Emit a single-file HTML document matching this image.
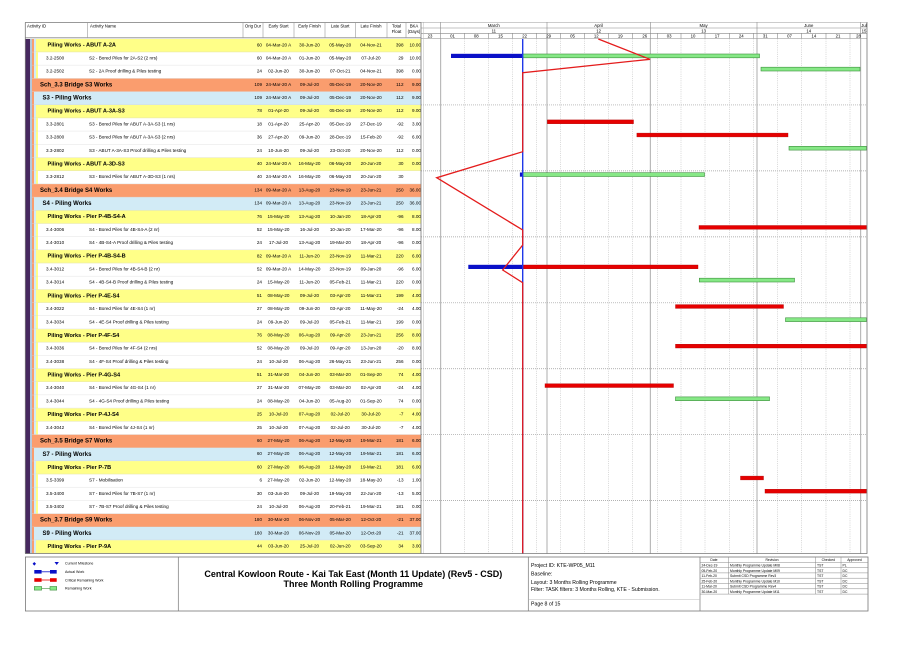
<!DOCTYPE html>
<html><head><meta charset="utf-8"><style>
html,body{margin:0;padding:0;background:#fff;}
svg{display:block}
svg text{font-family:"Liberation Sans",Arial,sans-serif;fill:#000}
.n{font-size:4.6px}
.h{font-size:4.3px}
.c{text-anchor:middle}
.r{text-anchor:end}
.y{font-size:5.6px;font-weight:bold}
.b{font-size:6px;font-weight:bold}
.lg{font-size:3.6px}
.rv{font-size:3.4px}
.pi{font-size:5.2px}
.tt{font-size:9px;font-weight:bold}
.gr{fill:#86e886;stroke:#3f8f3f;stroke-width:.6}
.rd{fill:#e60000;stroke:#b00000;stroke-width:.4}
.bl{fill:#0a10c8}
</style></head><body>
<svg width="919" height="650" viewBox="0 0 919 650" xmlns="http://www.w3.org/2000/svg">
<defs>
<g id="gO"><rect x="32" width="389" height="13.19" fill="#fa9d6e"/></g>
<g id="gB"><rect x="32" width="2" height="13.19" fill="#fa9d6e"/><rect x="34" width="387" height="13.19" fill="#d2ebf6"/></g>
<g id="gY"><rect x="32" width="2" height="13.19" fill="#fa9d6e"/><rect x="34" width="2" height="13.19" fill="#d2ebf6"/><rect x="36" width="385" height="13.19" fill="#ffff88"/></g>
<g id="gW"><rect x="32" width="2" height="13.19" fill="#fa9d6e"/><rect x="34" width="2" height="13.19" fill="#d2ebf6"/><rect x="36" width="2" height="13.19" fill="#ffff88"/></g>
<pattern id="rowl" x="0" y="39" width="10" height="13.19" patternUnits="userSpaceOnUse"><rect x="0" y="12.9" width="10" height="0.5" fill="#cfcfcf"/></pattern>
</defs>

<!-- left bands -->
<rect x="25.5" y="39" width="4.5" height="514.4" fill="#46285f"/>
<rect x="30" y="39" width="2" height="514.4" fill="#b4c8dc"/>

<!-- row backgrounds -->
<use href="#gY" y="39"/>
<use href="#gW" y="52.19"/>
<use href="#gW" y="65.38"/>
<use href="#gO" y="78.57"/>
<use href="#gB" y="91.76"/>
<use href="#gY" y="104.95"/>
<use href="#gW" y="118.14"/>
<use href="#gW" y="131.33"/>
<use href="#gW" y="144.52"/>
<use href="#gY" y="157.71"/>
<use href="#gW" y="170.9"/>
<use href="#gO" y="184.09"/>
<use href="#gB" y="197.28"/>
<use href="#gY" y="210.47"/>
<use href="#gW" y="223.66"/>
<use href="#gW" y="236.85"/>
<use href="#gY" y="250.04"/>
<use href="#gW" y="263.23"/>
<use href="#gW" y="276.42"/>
<use href="#gY" y="289.61"/>
<use href="#gW" y="302.8"/>
<use href="#gW" y="315.99"/>
<use href="#gY" y="329.18"/>
<use href="#gW" y="342.37"/>
<use href="#gW" y="355.56"/>
<use href="#gY" y="368.75"/>
<use href="#gW" y="381.94"/>
<use href="#gW" y="395.13"/>
<use href="#gY" y="408.32"/>
<use href="#gW" y="421.51"/>
<use href="#gO" y="434.7"/>
<use href="#gB" y="447.89"/>
<use href="#gY" y="461.08"/>
<use href="#gW" y="474.27"/>
<use href="#gW" y="487.46"/>
<use href="#gW" y="500.65"/>
<use href="#gO" y="513.84"/>
<use href="#gB" y="527.03"/>
<use href="#gY" y="540.22"/>
<rect x="32" y="39" width="389" height="514.4" fill="url(#rowl)"/>

<!-- table header -->
<line x1="25" y1="22.5" x2="867.5" y2="22.5" stroke="#777" stroke-width=".8"/>
<line x1="25" y1="37.8" x2="421" y2="37.8" stroke="#888" stroke-width=".8"/>
<g stroke="#999" stroke-width=".6">
<line x1="87.5" y1="22.5" x2="87.5" y2="37.8"/>
<line x1="243" y1="22.5" x2="243" y2="37.8"/>
<line x1="263" y1="22.5" x2="263" y2="37.8"/>
<line x1="294" y1="22.5" x2="294" y2="37.8"/>
<line x1="325" y1="22.5" x2="325" y2="37.8"/>
<line x1="355.5" y1="22.5" x2="355.5" y2="37.8"/>
<line x1="387" y1="22.5" x2="387" y2="37.8"/>
<line x1="406" y1="22.5" x2="406" y2="37.8"/>
</g>
<text class="h" x="27" y="27.3">Activity ID</text>
<text class="h" x="90" y="27.3">Activity Name</text>
<text class="h c" x="253" y="27.3">Orig Dur</text>
<text class="h c" x="278.5" y="27.3">Early Start</text>
<text class="h c" x="309.5" y="27.3">Early Finish</text>
<text class="h c" x="340.2" y="27.3">Late Start</text>
<text class="h c" x="371" y="27.3">Late Finish</text>
<text class="h c" x="396.5" y="27.3">Total</text>
<text class="h c" x="396.5" y="32.8">Float</text>
<text class="h c" x="414" y="27.3">BKA</text>
<text class="h c" x="414" y="32.8">(Days)</text>

<!-- rows text -->
<g transform="translate(0,39)"><text class="y" x="47.5" y="7.7">Piling Works - ABUT A-2A</text><text class="n r" x="262" y="7.3">60</text><text class="n c" x="278.5" y="7.3">04-Mar-20 A</text><text class="n c" x="309.5" y="7.3">30-Jun-20</text><text class="n c" x="340.2" y="7.3">05-May-20</text><text class="n c" x="371" y="7.3">04-Nov-21</text><text class="n r" x="403.5" y="7.3">398</text><text class="n r" x="421" y="7.3">10.00</text></g>
<g transform="translate(0,52.19)"><text class="n" x="46" y="7.3">3.2-2500</text><text class="n" x="89" y="7.3">S2 - Bored Piles for 2A-S2 (2 nrs)</text><text class="n r" x="262" y="7.3">60</text><text class="n c" x="278.5" y="7.3">04-Mar-20 A</text><text class="n c" x="309.5" y="7.3">01-Jun-20</text><text class="n c" x="340.2" y="7.3">05-May-20</text><text class="n c" x="371" y="7.3">07-Jul-20</text><text class="n r" x="403.5" y="7.3">29</text><text class="n r" x="421" y="7.3">10.00</text></g>
<g transform="translate(0,65.38)"><text class="n" x="46" y="7.3">3.2-2502</text><text class="n" x="89" y="7.3">S2 - 2A Proof drilling &amp; Piles testing</text><text class="n r" x="262" y="7.3">24</text><text class="n c" x="278.5" y="7.3">02-Jun-20</text><text class="n c" x="309.5" y="7.3">30-Jun-20</text><text class="n c" x="340.2" y="7.3">07-Oct-21</text><text class="n c" x="371" y="7.3">04-Nov-21</text><text class="n r" x="403.5" y="7.3">398</text><text class="n r" x="421" y="7.3">0.00</text></g>
<g transform="translate(0,78.57)"><text class="b" x="40" y="7.9">Sch_3.3 Bridge S3 Works</text><text class="n r" x="262" y="7.3">109</text><text class="n c" x="278.5" y="7.3">24-Mar-20 A</text><text class="n c" x="309.5" y="7.3">09-Jul-20</text><text class="n c" x="340.2" y="7.3">05-Dec-19</text><text class="n c" x="371" y="7.3">20-Nov-20</text><text class="n r" x="403.5" y="7.3">112</text><text class="n r" x="421" y="7.3">9.00</text></g>
<g transform="translate(0,91.76)"><text class="b" x="42.5" y="7.9">S3 - Piling Works</text><text class="n r" x="262" y="7.3">109</text><text class="n c" x="278.5" y="7.3">24-Mar-20 A</text><text class="n c" x="309.5" y="7.3">09-Jul-20</text><text class="n c" x="340.2" y="7.3">05-Dec-19</text><text class="n c" x="371" y="7.3">20-Nov-20</text><text class="n r" x="403.5" y="7.3">112</text><text class="n r" x="421" y="7.3">9.00</text></g>
<g transform="translate(0,104.95)"><text class="y" x="47.5" y="7.7">Piling Works - ABUT A-3A-S3</text><text class="n r" x="262" y="7.3">78</text><text class="n c" x="278.5" y="7.3">01-Apr-20</text><text class="n c" x="309.5" y="7.3">09-Jul-20</text><text class="n c" x="340.2" y="7.3">05-Dec-19</text><text class="n c" x="371" y="7.3">20-Nov-20</text><text class="n r" x="403.5" y="7.3">112</text><text class="n r" x="421" y="7.3">9.00</text></g>
<g transform="translate(0,118.14)"><text class="n" x="46" y="7.3">3.3-2801</text><text class="n" x="89" y="7.3">S3 - Bored Piles for ABUT A-3A-S3 (1 nrs)</text><text class="n r" x="262" y="7.3">18</text><text class="n c" x="278.5" y="7.3">01-Apr-20</text><text class="n c" x="309.5" y="7.3">25-Apr-20</text><text class="n c" x="340.2" y="7.3">05-Dec-19</text><text class="n c" x="371" y="7.3">27-Dec-19</text><text class="n r" x="403.5" y="7.3">-92</text><text class="n r" x="421" y="7.3">3.00</text></g>
<g transform="translate(0,131.33)"><text class="n" x="46" y="7.3">3.3-2800</text><text class="n" x="89" y="7.3">S3 - Bored Piles for ABUT A-3A-S3 (2 nrs)</text><text class="n r" x="262" y="7.3">36</text><text class="n c" x="278.5" y="7.3">27-Apr-20</text><text class="n c" x="309.5" y="7.3">09-Jun-20</text><text class="n c" x="340.2" y="7.3">28-Dec-19</text><text class="n c" x="371" y="7.3">15-Feb-20</text><text class="n r" x="403.5" y="7.3">-92</text><text class="n r" x="421" y="7.3">6.00</text></g>
<g transform="translate(0,144.52)"><text class="n" x="46" y="7.3">3.3-2802</text><text class="n" x="89" y="7.3">S3 - ABUT A-3A-S3 Proof drilling &amp; Piles testing</text><text class="n r" x="262" y="7.3">24</text><text class="n c" x="278.5" y="7.3">10-Jun-20</text><text class="n c" x="309.5" y="7.3">09-Jul-20</text><text class="n c" x="340.2" y="7.3">23-Oct-20</text><text class="n c" x="371" y="7.3">20-Nov-20</text><text class="n r" x="403.5" y="7.3">112</text><text class="n r" x="421" y="7.3">0.00</text></g>
<g transform="translate(0,157.71)"><text class="y" x="47.5" y="7.7">Piling Works - ABUT A-3D-S3</text><text class="n r" x="262" y="7.3">40</text><text class="n c" x="278.5" y="7.3">24-Mar-20 A</text><text class="n c" x="309.5" y="7.3">16-May-20</text><text class="n c" x="340.2" y="7.3">06-May-20</text><text class="n c" x="371" y="7.3">20-Jun-20</text><text class="n r" x="403.5" y="7.3">30</text><text class="n r" x="421" y="7.3">0.00</text></g>
<g transform="translate(0,170.9)"><text class="n" x="46" y="7.3">3.3-2812</text><text class="n" x="89" y="7.3">S3 - Bored Piles for ABUT A-3D-S3 (1 nrs)</text><text class="n r" x="262" y="7.3">40</text><text class="n c" x="278.5" y="7.3">24-Mar-20 A</text><text class="n c" x="309.5" y="7.3">16-May-20</text><text class="n c" x="340.2" y="7.3">06-May-20</text><text class="n c" x="371" y="7.3">20-Jun-20</text><text class="n r" x="403.5" y="7.3">30</text></g>
<g transform="translate(0,184.09)"><text class="b" x="40" y="7.9">Sch_3.4 Bridge S4 Works</text><text class="n r" x="262" y="7.3">134</text><text class="n c" x="278.5" y="7.3">09-Mar-20 A</text><text class="n c" x="309.5" y="7.3">13-Aug-20</text><text class="n c" x="340.2" y="7.3">23-Nov-19</text><text class="n c" x="371" y="7.3">23-Jun-21</text><text class="n r" x="403.5" y="7.3">250</text><text class="n r" x="421" y="7.3">36.00</text></g>
<g transform="translate(0,197.28)"><text class="b" x="42.5" y="7.9">S4 - Piling Works</text><text class="n r" x="262" y="7.3">134</text><text class="n c" x="278.5" y="7.3">09-Mar-20 A</text><text class="n c" x="309.5" y="7.3">13-Aug-20</text><text class="n c" x="340.2" y="7.3">23-Nov-19</text><text class="n c" x="371" y="7.3">23-Jun-21</text><text class="n r" x="403.5" y="7.3">250</text><text class="n r" x="421" y="7.3">36.00</text></g>
<g transform="translate(0,210.47)"><text class="y" x="47.5" y="7.7">Piling Works - Pier P-4B-S4-A</text><text class="n r" x="262" y="7.3">76</text><text class="n c" x="278.5" y="7.3">15-May-20</text><text class="n c" x="309.5" y="7.3">13-Aug-20</text><text class="n c" x="340.2" y="7.3">10-Jan-20</text><text class="n c" x="371" y="7.3">18-Apr-20</text><text class="n r" x="403.5" y="7.3">-96</text><text class="n r" x="421" y="7.3">8.00</text></g>
<g transform="translate(0,223.66)"><text class="n" x="46" y="7.3">3.4-3006</text><text class="n" x="89" y="7.3">S4 - Bored Piles for 4B-S4-A (2 nr)</text><text class="n r" x="262" y="7.3">52</text><text class="n c" x="278.5" y="7.3">15-May-20</text><text class="n c" x="309.5" y="7.3">16-Jul-20</text><text class="n c" x="340.2" y="7.3">10-Jan-20</text><text class="n c" x="371" y="7.3">17-Mar-20</text><text class="n r" x="403.5" y="7.3">-96</text><text class="n r" x="421" y="7.3">8.00</text></g>
<g transform="translate(0,236.85)"><text class="n" x="46" y="7.3">3.4-3010</text><text class="n" x="89" y="7.3">S4 - 4B-S4-A Proof drilling &amp; Piles testing</text><text class="n r" x="262" y="7.3">24</text><text class="n c" x="278.5" y="7.3">17-Jul-20</text><text class="n c" x="309.5" y="7.3">13-Aug-20</text><text class="n c" x="340.2" y="7.3">19-Mar-20</text><text class="n c" x="371" y="7.3">18-Apr-20</text><text class="n r" x="403.5" y="7.3">-96</text><text class="n r" x="421" y="7.3">0.00</text></g>
<g transform="translate(0,250.04)"><text class="y" x="47.5" y="7.7">Piling Works - Pier P-4B-S4-B</text><text class="n r" x="262" y="7.3">82</text><text class="n c" x="278.5" y="7.3">09-Mar-20 A</text><text class="n c" x="309.5" y="7.3">11-Jun-20</text><text class="n c" x="340.2" y="7.3">23-Nov-19</text><text class="n c" x="371" y="7.3">11-Mar-21</text><text class="n r" x="403.5" y="7.3">220</text><text class="n r" x="421" y="7.3">6.00</text></g>
<g transform="translate(0,263.23)"><text class="n" x="46" y="7.3">3.4-3012</text><text class="n" x="89" y="7.3">S4 - Bored Piles for 4B-S4-B (2 nr)</text><text class="n r" x="262" y="7.3">52</text><text class="n c" x="278.5" y="7.3">09-Mar-20 A</text><text class="n c" x="309.5" y="7.3">14-May-20</text><text class="n c" x="340.2" y="7.3">23-Nov-19</text><text class="n c" x="371" y="7.3">09-Jan-20</text><text class="n r" x="403.5" y="7.3">-96</text><text class="n r" x="421" y="7.3">6.00</text></g>
<g transform="translate(0,276.42)"><text class="n" x="46" y="7.3">3.4-3014</text><text class="n" x="89" y="7.3">S4 - 4B-S4-B Proof drilling &amp; Piles testing</text><text class="n r" x="262" y="7.3">24</text><text class="n c" x="278.5" y="7.3">15-May-20</text><text class="n c" x="309.5" y="7.3">11-Jun-20</text><text class="n c" x="340.2" y="7.3">05-Feb-21</text><text class="n c" x="371" y="7.3">11-Mar-21</text><text class="n r" x="403.5" y="7.3">220</text><text class="n r" x="421" y="7.3">0.00</text></g>
<g transform="translate(0,289.61)"><text class="y" x="47.5" y="7.7">Piling Works - Pier P-4E-S4</text><text class="n r" x="262" y="7.3">51</text><text class="n c" x="278.5" y="7.3">08-May-20</text><text class="n c" x="309.5" y="7.3">09-Jul-20</text><text class="n c" x="340.2" y="7.3">03-Apr-20</text><text class="n c" x="371" y="7.3">11-Mar-21</text><text class="n r" x="403.5" y="7.3">199</text><text class="n r" x="421" y="7.3">4.00</text></g>
<g transform="translate(0,302.8)"><text class="n" x="46" y="7.3">3.4-3022</text><text class="n" x="89" y="7.3">S4 - Bored Piles for 4E-S4 (1 nr)</text><text class="n r" x="262" y="7.3">27</text><text class="n c" x="278.5" y="7.3">08-May-20</text><text class="n c" x="309.5" y="7.3">09-Jun-20</text><text class="n c" x="340.2" y="7.3">03-Apr-20</text><text class="n c" x="371" y="7.3">11-May-20</text><text class="n r" x="403.5" y="7.3">-24</text><text class="n r" x="421" y="7.3">4.00</text></g>
<g transform="translate(0,315.99)"><text class="n" x="46" y="7.3">3.4-3034</text><text class="n" x="89" y="7.3">S4 - 4E-S4 Proof drilling &amp; Piles testing</text><text class="n r" x="262" y="7.3">24</text><text class="n c" x="278.5" y="7.3">09-Jun-20</text><text class="n c" x="309.5" y="7.3">09-Jul-20</text><text class="n c" x="340.2" y="7.3">05-Feb-21</text><text class="n c" x="371" y="7.3">11-Mar-21</text><text class="n r" x="403.5" y="7.3">199</text><text class="n r" x="421" y="7.3">0.00</text></g>
<g transform="translate(0,329.18)"><text class="y" x="47.5" y="7.7">Piling Works - Pier P-4F-S4</text><text class="n r" x="262" y="7.3">76</text><text class="n c" x="278.5" y="7.3">08-May-20</text><text class="n c" x="309.5" y="7.3">06-Aug-20</text><text class="n c" x="340.2" y="7.3">09-Apr-20</text><text class="n c" x="371" y="7.3">23-Jun-21</text><text class="n r" x="403.5" y="7.3">256</text><text class="n r" x="421" y="7.3">8.00</text></g>
<g transform="translate(0,342.37)"><text class="n" x="46" y="7.3">3.4-3036</text><text class="n" x="89" y="7.3">S4 - Bored Piles for 4F-S4 (2 nrs)</text><text class="n r" x="262" y="7.3">52</text><text class="n c" x="278.5" y="7.3">08-May-20</text><text class="n c" x="309.5" y="7.3">09-Jul-20</text><text class="n c" x="340.2" y="7.3">09-Apr-20</text><text class="n c" x="371" y="7.3">13-Jun-20</text><text class="n r" x="403.5" y="7.3">-20</text><text class="n r" x="421" y="7.3">8.00</text></g>
<g transform="translate(0,355.56)"><text class="n" x="46" y="7.3">3.4-3038</text><text class="n" x="89" y="7.3">S4 - 4F-S4 Proof drilling &amp; Piles testing</text><text class="n r" x="262" y="7.3">24</text><text class="n c" x="278.5" y="7.3">10-Jul-20</text><text class="n c" x="309.5" y="7.3">06-Aug-20</text><text class="n c" x="340.2" y="7.3">26-May-21</text><text class="n c" x="371" y="7.3">23-Jun-21</text><text class="n r" x="403.5" y="7.3">256</text><text class="n r" x="421" y="7.3">0.00</text></g>
<g transform="translate(0,368.75)"><text class="y" x="47.5" y="7.7">Piling Works - Pier P-4G-S4</text><text class="n r" x="262" y="7.3">51</text><text class="n c" x="278.5" y="7.3">31-Mar-20</text><text class="n c" x="309.5" y="7.3">04-Jun-20</text><text class="n c" x="340.2" y="7.3">03-Mar-20</text><text class="n c" x="371" y="7.3">01-Sep-20</text><text class="n r" x="403.5" y="7.3">74</text><text class="n r" x="421" y="7.3">4.00</text></g>
<g transform="translate(0,381.94)"><text class="n" x="46" y="7.3">3.4-3040</text><text class="n" x="89" y="7.3">S4 - Bored Piles for 4G-S4 (1 nr)</text><text class="n r" x="262" y="7.3">27</text><text class="n c" x="278.5" y="7.3">31-Mar-20</text><text class="n c" x="309.5" y="7.3">07-May-20</text><text class="n c" x="340.2" y="7.3">03-Mar-20</text><text class="n c" x="371" y="7.3">02-Apr-20</text><text class="n r" x="403.5" y="7.3">-24</text><text class="n r" x="421" y="7.3">4.00</text></g>
<g transform="translate(0,395.13)"><text class="n" x="46" y="7.3">3.4-3044</text><text class="n" x="89" y="7.3">S4 - 4G-S4 Proof drilling &amp; Piles testing</text><text class="n r" x="262" y="7.3">24</text><text class="n c" x="278.5" y="7.3">08-May-20</text><text class="n c" x="309.5" y="7.3">04-Jun-20</text><text class="n c" x="340.2" y="7.3">05-Aug-20</text><text class="n c" x="371" y="7.3">01-Sep-20</text><text class="n r" x="403.5" y="7.3">74</text><text class="n r" x="421" y="7.3">0.00</text></g>
<g transform="translate(0,408.32)"><text class="y" x="47.5" y="7.7">Piling Works - Pier P-4J-S4</text><text class="n r" x="262" y="7.3">25</text><text class="n c" x="278.5" y="7.3">10-Jul-20</text><text class="n c" x="309.5" y="7.3">07-Aug-20</text><text class="n c" x="340.2" y="7.3">02-Jul-20</text><text class="n c" x="371" y="7.3">30-Jul-20</text><text class="n r" x="403.5" y="7.3">-7</text><text class="n r" x="421" y="7.3">4.00</text></g>
<g transform="translate(0,421.51)"><text class="n" x="46" y="7.3">3.4-3042</text><text class="n" x="89" y="7.3">S4 - Bored Piles for 4J-S4 (1 nr)</text><text class="n r" x="262" y="7.3">25</text><text class="n c" x="278.5" y="7.3">10-Jul-20</text><text class="n c" x="309.5" y="7.3">07-Aug-20</text><text class="n c" x="340.2" y="7.3">02-Jul-20</text><text class="n c" x="371" y="7.3">30-Jul-20</text><text class="n r" x="403.5" y="7.3">-7</text><text class="n r" x="421" y="7.3">4.00</text></g>
<g transform="translate(0,434.7)"><text class="b" x="40" y="7.9">Sch_3.5 Bridge S7 Works</text><text class="n r" x="262" y="7.3">60</text><text class="n c" x="278.5" y="7.3">27-May-20</text><text class="n c" x="309.5" y="7.3">06-Aug-20</text><text class="n c" x="340.2" y="7.3">12-May-20</text><text class="n c" x="371" y="7.3">19-Mar-21</text><text class="n r" x="403.5" y="7.3">181</text><text class="n r" x="421" y="7.3">6.00</text></g>
<g transform="translate(0,447.89)"><text class="b" x="42.5" y="7.9">S7 - Piling Works</text><text class="n r" x="262" y="7.3">60</text><text class="n c" x="278.5" y="7.3">27-May-20</text><text class="n c" x="309.5" y="7.3">06-Aug-20</text><text class="n c" x="340.2" y="7.3">12-May-20</text><text class="n c" x="371" y="7.3">19-Mar-21</text><text class="n r" x="403.5" y="7.3">181</text><text class="n r" x="421" y="7.3">6.00</text></g>
<g transform="translate(0,461.08)"><text class="y" x="47.5" y="7.7">Piling Works - Pier P-7B</text><text class="n r" x="262" y="7.3">60</text><text class="n c" x="278.5" y="7.3">27-May-20</text><text class="n c" x="309.5" y="7.3">06-Aug-20</text><text class="n c" x="340.2" y="7.3">12-May-20</text><text class="n c" x="371" y="7.3">19-Mar-21</text><text class="n r" x="403.5" y="7.3">181</text><text class="n r" x="421" y="7.3">6.00</text></g>
<g transform="translate(0,474.27)"><text class="n" x="46" y="7.3">3.5-3399</text><text class="n" x="89" y="7.3">S7 - Mobilisation</text><text class="n r" x="262" y="7.3">6</text><text class="n c" x="278.5" y="7.3">27-May-20</text><text class="n c" x="309.5" y="7.3">02-Jun-20</text><text class="n c" x="340.2" y="7.3">12-May-20</text><text class="n c" x="371" y="7.3">18-May-20</text><text class="n r" x="403.5" y="7.3">-13</text><text class="n r" x="421" y="7.3">1.00</text></g>
<g transform="translate(0,487.46)"><text class="n" x="46" y="7.3">3.5-3400</text><text class="n" x="89" y="7.3">S7 - Bored Piles for 7B-S7 (1 nr)</text><text class="n r" x="262" y="7.3">30</text><text class="n c" x="278.5" y="7.3">03-Jun-20</text><text class="n c" x="309.5" y="7.3">09-Jul-20</text><text class="n c" x="340.2" y="7.3">19-May-20</text><text class="n c" x="371" y="7.3">22-Jun-20</text><text class="n r" x="403.5" y="7.3">-13</text><text class="n r" x="421" y="7.3">5.00</text></g>
<g transform="translate(0,500.65)"><text class="n" x="46" y="7.3">3.5-3402</text><text class="n" x="89" y="7.3">S7 - 7B-S7 Proof drilling &amp; Piles testing</text><text class="n r" x="262" y="7.3">24</text><text class="n c" x="278.5" y="7.3">10-Jul-20</text><text class="n c" x="309.5" y="7.3">06-Aug-20</text><text class="n c" x="340.2" y="7.3">20-Feb-21</text><text class="n c" x="371" y="7.3">19-Mar-21</text><text class="n r" x="403.5" y="7.3">181</text><text class="n r" x="421" y="7.3">0.00</text></g>
<g transform="translate(0,513.84)"><text class="b" x="40" y="7.9">Sch_3.7 Bridge S9 Works</text><text class="n r" x="262" y="7.3">180</text><text class="n c" x="278.5" y="7.3">30-Mar-20</text><text class="n c" x="309.5" y="7.3">06-Nov-20</text><text class="n c" x="340.2" y="7.3">05-Mar-20</text><text class="n c" x="371" y="7.3">12-Oct-20</text><text class="n r" x="403.5" y="7.3">-21</text><text class="n r" x="421" y="7.3">37.00</text></g>
<g transform="translate(0,527.03)"><text class="b" x="42.5" y="7.9">S9 - Piling Works</text><text class="n r" x="262" y="7.3">180</text><text class="n c" x="278.5" y="7.3">30-Mar-20</text><text class="n c" x="309.5" y="7.3">06-Nov-20</text><text class="n c" x="340.2" y="7.3">05-Mar-20</text><text class="n c" x="371" y="7.3">12-Oct-20</text><text class="n r" x="403.5" y="7.3">-21</text><text class="n r" x="421" y="7.3">37.00</text></g>
<g transform="translate(0,540.22)"><text class="y" x="47.5" y="7.7">Piling Works - Pier P-9A</text><text class="n r" x="262" y="7.3">44</text><text class="n c" x="278.5" y="7.3">03-Jun-20</text><text class="n c" x="309.5" y="7.3">25-Jul-20</text><text class="n c" x="340.2" y="7.3">02-Jun-20</text><text class="n c" x="371" y="7.3">03-Sep-20</text><text class="n r" x="403.5" y="7.3">34</text><text class="n r" x="421" y="7.3">3.00</text></g>

<!-- gantt area background -->
<rect x="421" y="22.5" width="446" height="531" fill="#fff"/>

<!-- gantt header -->
<g stroke="#888" stroke-width=".6">
<line x1="421" y1="28" x2="867" y2="28"/>
<line x1="421" y1="33.3" x2="867" y2="33.3"/>
<line x1="421" y1="38.5" x2="867" y2="38.5"/>
<line x1="440.7" y1="22.5" x2="440.7" y2="38.5"/>
<line x1="547" y1="22.5" x2="547" y2="38.5"/>
<line x1="650.3" y1="22.5" x2="650.3" y2="38.5"/>
<line x1="757" y1="22.5" x2="757" y2="38.5"/>
<line x1="860.7" y1="22.5" x2="860.7" y2="38.5"/>
<line x1="464.3" y1="33.3" x2="464.3" y2="38.5"/>
<line x1="488.3" y1="33.3" x2="488.3" y2="38.5"/>
<line x1="512.7" y1="33.3" x2="512.7" y2="38.5"/>
<line x1="536.7" y1="33.3" x2="536.7" y2="38.5"/>
<line x1="560.7" y1="33.3" x2="560.7" y2="38.5"/>
<line x1="584.3" y1="33.3" x2="584.3" y2="38.5"/>
<line x1="608.3" y1="33.3" x2="608.3" y2="38.5"/>
<line x1="632.3" y1="33.3" x2="632.3" y2="38.5"/>
<line x1="657.3" y1="33.3" x2="657.3" y2="38.5"/>
<line x1="681" y1="33.3" x2="681" y2="38.5"/>
<line x1="705" y1="33.3" x2="705" y2="38.5"/>
<line x1="729.3" y1="33.3" x2="729.3" y2="38.5"/>
<line x1="753.3" y1="33.3" x2="753.3" y2="38.5"/>
<line x1="777.3" y1="33.3" x2="777.3" y2="38.5"/>
<line x1="801.7" y1="33.3" x2="801.7" y2="38.5"/>
<line x1="826" y1="33.3" x2="826" y2="38.5"/>
<line x1="850" y1="33.3" x2="850" y2="38.5"/>
</g>
<g class="h">
<text class="h c" x="493.8" y="27">March</text>
<text class="h c" x="598.6" y="27">April</text>
<text class="h c" x="703.6" y="27">May</text>
<text class="h c" x="808.8" y="27">June</text>
<text class="h c" x="864" y="27">Jul</text>
<text class="h c" x="493.8" y="32.3">11</text>
<text class="h c" x="598.6" y="32.3">12</text>
<text class="h c" x="703.6" y="32.3">13</text>
<text class="h c" x="808.8" y="32.3">14</text>
<text class="h c" x="864" y="32.3">15</text>
<text class="h c" x="430" y="37.6">23</text>
<text class="h c" x="452.5" y="37.6">01</text>
<text class="h c" x="476.3" y="37.6">08</text>
<text class="h c" x="500.5" y="37.6">15</text>
<text class="h c" x="524.7" y="37.6">22</text>
<text class="h c" x="548.7" y="37.6">29</text>
<text class="h c" x="572.5" y="37.6">05</text>
<text class="h c" x="596.3" y="37.6">12</text>
<text class="h c" x="620.3" y="37.6">19</text>
<text class="h c" x="644.8" y="37.6">26</text>
<text class="h c" x="669.2" y="37.6">03</text>
<text class="h c" x="693" y="37.6">10</text>
<text class="h c" x="717.2" y="37.6">17</text>
<text class="h c" x="741.3" y="37.6">24</text>
<text class="h c" x="765.3" y="37.6">31</text>
<text class="h c" x="789.5" y="37.6">07</text>
<text class="h c" x="813.9" y="37.6">14</text>
<text class="h c" x="838" y="37.6">21</text>
<text class="h c" x="858.5" y="37.6">28</text>
</g>

<!-- gantt grid -->
<g stroke="#bdbdbd" stroke-width=".6" stroke-dasharray="1 1.2">
<line x1="464.3" y1="38.5" x2="464.3" y2="553.4"/>
<line x1="488.3" y1="38.5" x2="488.3" y2="553.4"/>
<line x1="512.7" y1="38.5" x2="512.7" y2="553.4"/>
<line x1="536.7" y1="38.5" x2="536.7" y2="553.4"/>
<line x1="560.7" y1="38.5" x2="560.7" y2="553.4"/>
<line x1="584.3" y1="38.5" x2="584.3" y2="553.4"/>
<line x1="608.3" y1="38.5" x2="608.3" y2="553.4"/>
<line x1="632.3" y1="38.5" x2="632.3" y2="553.4"/>
<line x1="657.3" y1="38.5" x2="657.3" y2="553.4"/>
<line x1="681" y1="38.5" x2="681" y2="553.4"/>
<line x1="705" y1="38.5" x2="705" y2="553.4"/>
<line x1="729.3" y1="38.5" x2="729.3" y2="553.4"/>
<line x1="753.3" y1="38.5" x2="753.3" y2="553.4"/>
<line x1="777.3" y1="38.5" x2="777.3" y2="553.4"/>
<line x1="801.7" y1="38.5" x2="801.7" y2="553.4"/>
<line x1="826" y1="38.5" x2="826" y2="553.4"/>
<line x1="850" y1="38.5" x2="850" y2="553.4"/>
</g>
<g stroke="#999" stroke-width=".7" stroke-dasharray="1 1">
<line x1="421" y1="104.95" x2="867" y2="104.95"/>
<line x1="421" y1="170.9" x2="867" y2="170.9"/>
<line x1="421" y1="236.85" x2="867" y2="236.85"/>
<line x1="421" y1="302.8" x2="867" y2="302.8"/>
<line x1="421" y1="368.75" x2="867" y2="368.75"/>
<line x1="421" y1="434.7" x2="867" y2="434.7"/>
<line x1="421" y1="500.65" x2="867" y2="500.65"/>
</g>
<g stroke="#a4a4a4" stroke-width=".9">
<line x1="440.7" y1="38.5" x2="440.7" y2="553.4"/>
<line x1="547" y1="38.5" x2="547" y2="553.4"/>
<line x1="650.3" y1="38.5" x2="650.3" y2="553.4"/>
<line x1="757" y1="38.5" x2="757" y2="553.4"/>
<line x1="860.7" y1="38.5" x2="860.7" y2="553.4"/>
</g>

<!-- bars -->
<rect class="bl" x="451" y="53.8" width="71.7" height="4.2"/>
<rect class="gr" x="522.7" y="54" width="236.8" height="3.8"/>
<rect class="gr" x="761" y="67.2" width="99" height="3.8"/>
<rect class="rd" x="547.4" y="119.9" width="86.1" height="3.8"/>
<rect class="rd" x="636.9" y="133.1" width="151.1" height="3.8"/>
<rect class="gr" x="789" y="146.3" width="77.5" height="3.8"/>
<rect class="bl" x="519.9" y="172.5" width="2.8" height="4.2"/>
<rect class="gr" x="522.7" y="172.7" width="181.8" height="3.8"/>
<rect class="rd" x="699" y="225.5" width="167.5" height="3.8"/>
<rect class="bl" x="468.3" y="264.8" width="54.4" height="4.2"/>
<rect class="rd" x="522.7" y="265" width="175.3" height="3.8"/>
<rect class="gr" x="699.3" y="278.2" width="95.2" height="3.8"/>
<rect class="rd" x="675.5" y="304.6" width="108" height="3.8"/>
<rect class="gr" x="785.5" y="317.8" width="81" height="3.8"/>
<rect class="rd" x="675.5" y="344.2" width="191" height="3.8"/>
<rect class="rd" x="545" y="383.7" width="128.5" height="3.8"/>
<rect class="gr" x="675.5" y="396.9" width="94" height="3.8"/>
<rect class="rd" x="740.5" y="476.1" width="23" height="3.8"/>
<rect class="rd" x="765" y="489.3" width="101.5" height="3.8"/>

<!-- data date & progress line -->
<line x1="522.7" y1="39" x2="522.7" y2="553.4" stroke="#2038e8" stroke-width="1.4"/>
<polyline points="598.3,39 650,59.3 522.7,72.7 522.7,151.7 436.7,177.7 522.7,230 522.7,245 502.7,270 522.7,282.7 522.7,553.4" fill="none" stroke="#e41c1c" stroke-width="1.3" stroke-linejoin="miter"/>

<!-- borders -->
<line x1="421" y1="22.5" x2="421" y2="553.4" stroke="#777" stroke-width=".8"/>
<line x1="423.3" y1="22.5" x2="423.3" y2="553.4" stroke="#bbb" stroke-width=".5"/>
<line x1="867" y1="22.5" x2="867" y2="553.4" stroke="#777" stroke-width=".8"/>
<line x1="25.3" y1="22.5" x2="25.3" y2="553.4" stroke="#777" stroke-width=".8"/>
<line x1="25" y1="553.6" x2="867.3" y2="553.6" stroke="#777" stroke-width=".8"/>

<!-- footer -->
<rect x="25.4" y="557" width="842.6" height="54" fill="#fff" stroke="#777" stroke-width=".8"/>
<g stroke="#777" stroke-width=".7">
<line x1="178.3" y1="557" x2="178.3" y2="611"/>
<line x1="528.3" y1="557" x2="528.3" y2="611"/>
<line x1="700" y1="557" x2="700" y2="611"/>
</g>
<g stroke="#888" stroke-width=".5">
<line x1="700" y1="562.3" x2="868" y2="562.3"/>
<line x1="700" y1="567.6" x2="868" y2="567.6"/>
<line x1="700" y1="572.9" x2="868" y2="572.9"/>
<line x1="700" y1="578.2" x2="868" y2="578.2"/>
<line x1="700" y1="583.5" x2="868" y2="583.5"/>
<line x1="700" y1="588.8" x2="868" y2="588.8"/>
<line x1="700" y1="594.1" x2="868" y2="594.1"/>
<line x1="728.3" y1="557" x2="728.3" y2="594.1"/>
<line x1="815.7" y1="557" x2="815.7" y2="594.1"/>
<line x1="841" y1="557" x2="841" y2="594.1"/>
<line x1="528.3" y1="599.5" x2="700" y2="599.5" stroke="#bbb"/>
</g>
<text class="rv c" x="714" y="561.2">Date</text>
<text class="rv c" x="772" y="561.2">Revision</text>
<text class="rv c" x="828.3" y="561.2">Checked</text>
<text class="rv c" x="854.5" y="561.2">Approved</text>
<g class="rv">
<text class="rv" x="701.5" y="566.5">24-Dec-19</text><text class="rv" x="730" y="566.5">Monthly Programme Update M08</text><text class="rv" x="817" y="566.5">TST</text><text class="rv" x="842.5" y="566.5">PL</text>
<text class="rv" x="701.5" y="571.8">05-Feb-20</text><text class="rv" x="730" y="571.8">Monthly Programme Update M09</text><text class="rv" x="817" y="571.8">TST</text><text class="rv" x="842.5" y="571.8">DC</text>
<text class="rv" x="701.5" y="577.1">11-Feb-20</text><text class="rv" x="730" y="577.1">Submit CSD Programme Rev3</text><text class="rv" x="817" y="577.1">TST</text><text class="rv" x="842.5" y="577.1">DC</text>
<text class="rv" x="701.5" y="582.4">25-Feb-20</text><text class="rv" x="730" y="582.4">Monthly Programme Update M10</text><text class="rv" x="817" y="582.4">TST</text><text class="rv" x="842.5" y="582.4">DC</text>
<text class="rv" x="701.5" y="587.7">11-Mar-20</text><text class="rv" x="730" y="587.7">Submit CSD Programme Rev4</text><text class="rv" x="817" y="587.7">TST</text><text class="rv" x="842.5" y="587.7">DC</text>
<text class="rv" x="701.5" y="593">30-Mar-20</text><text class="rv" x="730" y="593">Monthly Programme Update M11</text><text class="rv" x="817" y="593">TST</text><text class="rv" x="842.5" y="593">DC</text>
</g>

<text class="pi" x="531" y="566.8">Project ID: KTE-WP05_M11</text>
<text class="pi" x="531" y="575.5">Baseline:</text>
<text class="pi" x="531" y="584">Layout: 3 Months Rolling Programme</text>
<text class="pi" x="531" y="591">Filter: TASK filters: 3 Months Rolling, KTE - Submission.</text>
<text class="pi" x="531" y="605.5">Page 8 of 15</text>

<text class="tt c" x="353.3" y="576.8">Central Kowloon Route - Kai Tak East (Month 11 Update) (Rev5 - CSD)</text>
<text class="tt c" x="353.3" y="586.8">Three Month Rolling Programme</text>

<!-- legend -->
<polygon points="34.3,562 36,563.8 34.3,565.6 32.6,563.8" fill="#0a10c8"/>
<polygon points="54.5,562 58.9,562 56.7,565" fill="#0a10c8"/>
<text class="lg" x="65" y="564.6">Current Milestone</text>
<rect x="34.3" y="570" width="7.3" height="3.6" fill="#0a10c8"/><line x1="41.6" y1="571.8" x2="50" y2="571.8" stroke="#0a10c8" stroke-width=".8"/><rect x="50" y="570" width="6.7" height="3.6" fill="#0a10c8"/>
<text class="lg" x="65" y="573">Actual Work</text>
<rect x="34.3" y="578.2" width="7.3" height="3.6" fill="#e60000"/><line x1="41.6" y1="580" x2="50" y2="580" stroke="#e60000" stroke-width=".8"/><rect x="50" y="578.2" width="6.7" height="3.6" fill="#e60000"/>
<text class="lg" x="65" y="581.3">Critical Remaining Work</text>
<rect x="34.3" y="586.5" width="7.3" height="3.6" class="gr"/><line x1="41.6" y1="588.3" x2="50" y2="588.3" stroke="#3f8f3f" stroke-width=".6"/><rect x="50" y="586.5" width="6.7" height="3.6" class="gr"/>
<text class="lg" x="65" y="589.6">Remaining Work</text>
</svg>
</body></html>
